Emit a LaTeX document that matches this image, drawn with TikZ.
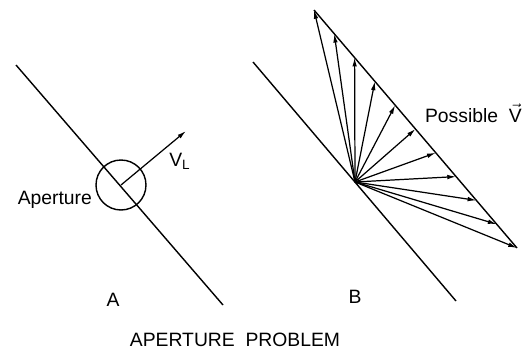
\documentclass[tikz,border=0pt]{standalone}
\usepackage{fontspec}
\setmainfont{Liberation Sans}
\usetikzlibrary{arrows.meta, calc, positioning}

\begin{document}
\begin{tikzpicture}[
      x=0.02cm, y=-0.02cm,
      % Styles
      edge/.style={
        line width=0.8pt
      },
      vec/.style={
        line width=0.7pt, -{Latex[length=5pt,width=2.6pt]}
      },
      lbl/.style={
        font=\fontsize{11}{13}\selectfont, inner sep=1pt
      }
    ]
    \useasboundingbox (0,0) rectangle (522,352);

    % --- A: APERTURE ON THE EDGE ---
    \coordinate (a_top) at (16,65);
    \coordinate (a_bot) at (223,305);
    \draw[edge] (a_top) -- (a_bot);

    \node[circle, draw, line width=0.8pt, minimum size=1cm, inner sep=0pt] (ap) at (121,185) {};
    \coordinate (vl_tip) at (186,131);
    \draw[vec] (ap.center) -- (vl_tip);

    \node[lbl, anchor=east] (ap_text) at (94,200) {Aperture};
    \node[lbl] (vl_text) at (180,161) {V\textsubscript{L}};
    \node[lbl] (lbl_a) at (113,300) {A};

    % --- B: POSSIBLE VELOCITIES ---
    \coordinate (b_top) at (253,62);
    \coordinate (b_bot) at (456,301);
    \draw[edge] (b_top) -- (b_bot);

    \coordinate (o) at (355,182);
    \coordinate (h_top) at (314,10);
    \coordinate (h_bot) at (517,248);
    \draw[edge] (h_top) -- (h_bot);

    % fan of vectors, tips on the far line
    \foreach \i in {0,...,10} {
      \coordinate (t\i) at ($(h_top)!\i/10!(h_bot)$);
      \draw[vec] (o) -- (t\i);
    }

    \node[lbl, anchor=west] (pv_text) at (423,113) {Possible\ \ $\vec{\mbox{V}}$};
    \node[lbl] (lbl_b) at (355,297) {B};

    % Title
    \node[lbl] (title) at (235,340) {APERTURE\ \ PROBLEM};

\end{tikzpicture}
\end{document}
